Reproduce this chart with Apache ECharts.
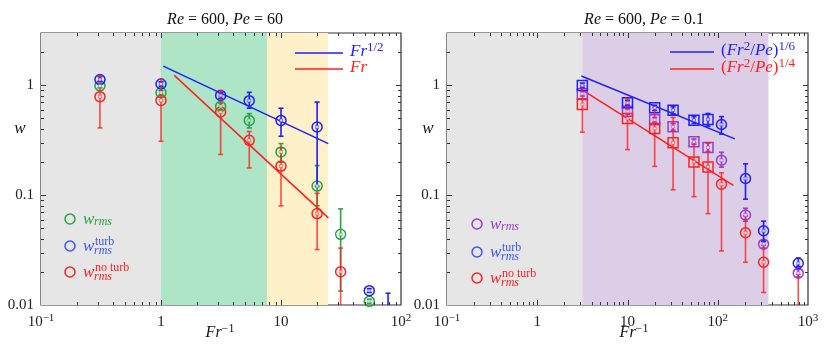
<!DOCTYPE html>
<html><head><meta charset="utf-8">
<script src="https://cdn.jsdelivr.net/npm/echarts@6/dist/echarts.min.js"></script>
<style>html,body{margin:0;padding:0;background:#fff}#c{width:830px;height:350px}</style>
</head><body><div id="c"></div>
<script>
// ================= DATA =================
// Left panel: Re = 600, Pe = 60
const leftX      = [0.31, 1, 3.14, 5.44, 10, 20, 31.4, 54.4, 78];
const leftW      = [0.99, 0.86, 0.644, 0.48, 0.248, 0.121, 0.044, 0.0108, null];
const leftWLo    = [0.95, 0.82, 0.60, 0.41, 0.20, 0.08, 0.0134, 0.0104, null];
const leftWHi    = [1.03, 0.90, 0.69, 0.553, 0.295, 0.186, 0.075, 0.0113, null];
const leftTurb   = [1.13, 1.03, 0.81, 0.726, 0.48, 0.418, null, 0.0135, 0.005];
const leftTurbLo = [1.08, 0.98, 0.76, 0.62, 0.344, 0.12, null, 0.013, 0.001];
const leftTurbHi = [1.20, 1.08, 0.86, 0.864, 0.62, 0.705, null, 0.0141, 0.0128];
const leftNo     = [0.79, 0.73, 0.572, 0.316, 0.184, 0.068, 0.0201, null, null];
const leftNoLo   = [0.41, 0.31, 0.235, 0.177, 0.08, 0.032, 0.009, null, null];
const leftNoHi   = [1.22, 1.14, 0.90, 0.38, 0.27, 0.104, 0.033, null, null];
const leftBands  = [0.1, 1, 7.64, 24.6];           // gray | green | yellow
const leftFitHalf = [[1.045, 1.50], [24.8, 0.295]];  // Fr^{1/2}
const leftFitOne  = [[1.29, 1.233], [24.8, 0.0622]]; // Fr

// Right panel: Re = 600, Pe = 0.1
const rightX      = [3.16, 10, 20, 32, 54.5, 78, 110, 203, 322, 780];
const rightMarker = ['sq','sq','sq','sq','sq','sq','ci','ci','ci','ci'];
const rightW      = [0.84, 0.58, 0.486, 0.42, 0.306, 0.272, 0.208, 0.066, 0.0358, 0.0195];
const rightWLo    = [0.80, 0.55, 0.46, 0.39, 0.29, 0.25, 0.18, 0.058, 0.033, 0.018];
const rightWHi    = [0.88, 0.61, 0.51, 0.45, 0.325, 0.30, 0.246, 0.076, 0.039, 0.021];
const rightTurb   = [1.0, 0.695, 0.625, 0.595, 0.482, 0.49, 0.44, 0.142, 0.0474, 0.024];
const rightTurbLo = [0.95, 0.66, 0.59, 0.55, 0.45, 0.425, 0.36, 0.092, 0.038, 0.0225];
const rightTurbHi = [1.05, 0.73, 0.66, 0.64, 0.52, 0.555, 0.52, 0.193, 0.058, 0.0268];
const rightNo     = [0.67, 0.50, 0.405, 0.30, 0.201, 0.181, 0.126, 0.0455, 0.0245, 0.005];
const rightNoLo   = [0.375, 0.26, 0.183, 0.112, 0.097, 0.068, 0.031, 0.0245, 0.013, 0.001];
const rightNoHi   = [0.99, 0.756, 0.634, 0.51, 0.30, 0.30, 0.16, 0.065, 0.035, 0.019];
const rightBands  = [0.1, 3.16, 365];              // gray | purple
const rightFitSixth   = [[3.08, 1.216], [154.5, 0.326]]; // (Fr^2/Pe)^{1/6}
const rightFitQuarter = [[3.08, 0.919], [149, 0.123]];   // (Fr^2/Pe)^{1/4}

const leftXRange  = [0.1, 100];
const rightXRange = [0.1, 1000];
const yRange      = [0.01, 3];

// ================= STYLE =================
const FONT = 'Liberation Serif';
const COL = {
  green: '#27a444', blue: '#1f1fff', red: '#ff2020', purple: '#9a3ccf',
  redBar: 'rgba(255,30,30,0.78)', gray: '#e6e6e6', bandGreen: '#ade5c6',
  bandYellow: '#fef0c9', bandPurple: '#dccee6', frame: '#333'
};

function decadeTicks(min, max) {
  const out = [];
  const e0 = Math.floor(Math.log10(min) + 1e-9), e1 = Math.ceil(Math.log10(max) - 1e-9);
  for (let e = e0; e <= e1; e++) {
    for (let m = 1; m <= 9; m++) {
      const v = m * Math.pow(10, e);
      if (v >= min * 0.999 && v <= max * 1.001) out.push([v, m === 1 ? 1 : 0]);
    }
  }
  return out;
}

function tickSeries(gi, xr, yr) {
  const data = [];
  decadeTicks(xr[0], xr[1]).forEach(([v, maj]) => data.push([v, yr[0], 0, maj]));
  decadeTicks(yr[0], yr[1]).forEach(([v, maj]) => { if (v < yr[1] * 0.999) data.push([xr[0], v, 1, maj]); });
  return {
    type: 'custom', xAxisIndex: gi, yAxisIndex: gi, silent: true, clip: false, z: 20,
    data,
    renderItem(params, api) {
      const cs = params.coordSys;
      const L = api.value(3) ? 5 : 3;
      const p = api.coord([api.value(0), api.value(1)]);
      const st = { stroke: COL.frame, lineWidth: 1 };
      if (api.value(2) === 0) {
        const x = Math.round(p[0]) + 0.5;
        if (x < cs.x + 1 || x > cs.x + cs.width - 1) return null;
        return { type: 'group', children: [
          { type: 'line', shape: { x1: x, y1: cs.y + cs.height, x2: x, y2: cs.y + cs.height - L }, style: st },
          { type: 'line', shape: { x1: x, y1: cs.y, x2: x, y2: cs.y + L }, style: st }
        ]};
      } else {
        const y = Math.round(p[1]) + 0.5;
        if (y < cs.y + 1 || y > cs.y + cs.height - 1) return null;
        return { type: 'group', children: [
          { type: 'line', shape: { x1: cs.x, y1: y, x2: cs.x + L, y2: y }, style: st },
          { type: 'line', shape: { x1: cs.x + cs.width, y1: y, x2: cs.x + cs.width - L, y2: y }, style: st }
        ]};
      }
    }
  };
}

function errSeries(gi, xs, lo, hi, val, color, z) {
  const data = [];
  xs.forEach((x, i) => { if (lo[i] != null) data.push([x, lo[i], hi[i], val[i] != null ? val[i] : lo[i]]); });
  return {
    type: 'custom', xAxisIndex: gi, yAxisIndex: gi, clip: true, silent: true, z,
    encode: { x: 0, y: [1, 2] }, data,
    renderItem(params, api) {
      const x = api.value(0);
      const a = api.coord([x, api.value(2)]), b = api.coord([x, api.value(1)]);
      const w = 2.5;
      const st = { stroke: color, lineWidth: 1.6 };
      return { type: 'group', children: [
        { type: 'line', shape: { x1: a[0], y1: a[1], x2: b[0], y2: b[1] }, style: st },
        { type: 'line', shape: { x1: a[0] - w, y1: a[1], x2: a[0] + w, y2: a[1] }, style: st },
        { type: 'line', shape: { x1: b[0] - w, y1: b[1], x2: b[0] + w, y2: b[1] }, style: st }
      ]};
    }
  };
}

function dotSeries(gi, xs, ys, color, z) {
  const data = [];
  xs.forEach((x, i) => { if (ys[i] != null) data.push([x, ys[i]]); });
  return {
    type: 'custom', xAxisIndex: gi, yAxisIndex: gi, clip: true, silent: true, z,
    data,
    renderItem(params, api) {
      const c = api.coord([api.value(0), api.value(1)]);
      return { type: 'rect', shape: { x: c[0] - 1.5, y: c[1] - 1.5, width: 3, height: 3 },
        style: { fill: '#fff', stroke: color, lineWidth: 0.7, opacity: 0.8 } };
    }
  };
}

function scatterSeries(gi, xs, ys, color, z, markers) {
  const data = [];
  xs.forEach((x, i) => {
    if (ys[i] == null) return;
    const item = { value: [x, ys[i]] };
    if (markers) item.symbol = markers[i] === 'sq' ? 'rect' : 'circle';
    data.push(item);
  });
  return {
    type: 'scatter', xAxisIndex: gi, yAxisIndex: gi, symbol: 'circle', symbolSize: 10, z,
    clip: true, silent: true, data,
    itemStyle: { color: 'rgba(0,0,0,0)', borderColor: color, borderWidth: 1.5, opacity: 1 }
  };
}

function fitSeries(gi, pts, color) {
  return { type: 'line', xAxisIndex: gi, yAxisIndex: gi, data: pts, symbol: 'none', silent: true, z: 6,
    lineStyle: { color, width: 1.5 } };
}

function bandSeries(gi, bands, colors) {
  const areas = [];
  for (let i = 0; i < bands.length - 1; i++) {
    areas.push([{ xAxis: bands[i], itemStyle: { color: colors[i], opacity: 1 } }, { xAxis: bands[i + 1] }]);
  }
  return { type: 'line', xAxisIndex: gi, yAxisIndex: gi, data: [], silent: true, z: 0,
    markArea: { silent: true, data: areas, itemStyle: { opacity: 1 } } };
}

function xFmt(v) {
  const e = Math.round(Math.log10(v));
  if (Math.abs(Math.log10(v) - e) > 0.01) return '';
  if (e === 0) return '1';
  if (e === 1) return '10';
  return '10{s|' + (e < 0 ? '\u2212' : '') + Math.abs(e) + '}';
}
function yFmt(v) {
  const e = Math.round(Math.log10(v));
  if (Math.abs(Math.log10(v) - e) > 0.01) return '';
  return e === 0 ? '1' : e === -1 ? '0.1' : e === -2 ? '0.01' : '';
}

function xAxisCfg(gi, r) {
  return { type: 'log', logBase: 10, gridIndex: gi, min: r[0], max: r[1],
    axisLine: { show: false }, axisTick: { show: false }, splitLine: { show: false },
    axisLabel: { formatter: xFmt, fontFamily: FONT, fontSize: 15, color: '#222', margin: 8, lineHeight: 18,
      rich: { s: { fontSize: 11, lineHeight: 11, verticalAlign: 'top', fontFamily: FONT, color: '#222' } } } };
}
function yAxisCfg(gi, r) {
  return { type: 'log', logBase: 10, gridIndex: gi, min: r[0], max: r[1],
    axisLine: { show: false }, axisTick: { show: false }, splitLine: { show: false },
    axisLabel: { formatter: yFmt, fontFamily: FONT, fontSize: 15, color: '#222', margin: 7, showMaxLabel: false } };
}

// ---------- text helpers (graphic) ----------
const richBase = (size, color) => ({
  i: { fontStyle: 'italic', fontFamily: FONT, fontSize: size, color, lineHeight: size + 5 },
  n: { fontFamily: FONT, fontSize: size, color, lineHeight: size + 5 },
  s: { fontFamily: FONT, fontSize: size - 4, color, lineHeight: size - 4, verticalAlign: 'top' },
  si: { fontFamily: FONT, fontStyle: 'italic', fontSize: size - 4, color, lineHeight: size - 4, verticalAlign: 'top' }
});
function rtext(x, y, text, size, color, align) {
  return { type: 'text', x, y, z: 50, silent: true,
    style: { text, rich: richBase(size, color), align: align || 'left', verticalAlign: 'middle',
      fontFamily: FONT, fontSize: size, fill: color } };
}
function ptext(x, y, text, size, color, italic, align) {
  return { type: 'text', x, y, z: 50, silent: true,
    style: { text, fontFamily: FONT, fontSize: size, fontStyle: italic ? 'italic' : 'normal', fill: color,
      align: align || 'left', verticalAlign: 'middle' } };
}
function wLegend(cx, cy, color, sup) {
  const els = [
    { type: 'circle', z: 50, silent: true, shape: { cx, cy, r: 5 }, style: { fill: 'none', stroke: color, lineWidth: 1.5 } },
    ptext(cx + 13, cy + 1, 'w', 17, color, true)
  ];
  if (sup) {
    els.push(ptext(cx + 25, cy - 4, sup, 12, color, false));
    els.push(ptext(cx + 24, cy + 5, 'rms', 12, color, true));
  } else {
    els.push(ptext(cx + 24, cy + 3, 'rms', 12, color, true));
  }
  return els;
}
function lineLegend(x1, x2, y, color, text, size) {
  return [
    { type: 'line', z: 50, silent: true, shape: { x1, y1: y, x2, y2: y }, style: { stroke: color, lineWidth: 1.5 } },
    rtext(x2 + 7, y - 1, text, size || 16, color)
  ];
}

const graphics = [
  rtext(225, 20, '{i|Re}{n| = 600, }{i|Pe}{n| = 60}', 16, '#111', 'center'),
  rtext(644, 20, '{i|Re}{n| = 600, }{i|Pe}{n| = 0.1}', 16, '#111', 'center'),
  ptext(20, 129, 'w', 17, '#111', true, 'center'),
  ptext(428, 129, 'w', 17, '#111', true, 'center'),
  rtext(220, 333, '{i|Fr}{s|\u22121}', 16, '#111', 'center'),
  rtext(634, 333, '{i|Fr}{s|\u22121}', 16, '#111', 'center'),
  ...lineLegend(295, 343, 53, COL.blue, '{i|Fr}{s|1/2}', 17),
  ...lineLegend(295, 343, 69, COL.red, '{i|Fr}', 17),
  ...lineLegend(670, 714, 52, COL.blue, '{n|(}{i|Fr}{s|2}{n|/}{i|Pe}{n|)}{s|1/6}', 17),
  ...lineLegend(670, 714, 69, COL.red, '{n|(}{i|Fr}{s|2}{n|/}{i|Pe}{n|)}{s|1/4}', 17),
  ...wLegend(70, 219, COL.green, null),
  ...wLegend(70, 246, '#3d55ff', 'turb'),
  ...wLegend(70, 272, COL.red, 'no turb'),
  ...wLegend(477, 224, COL.purple, null),
  ...wLegend(477, 252, '#3d55ff', 'turb'),
  ...wLegend(477, 278, COL.red, 'no turb')
];

const option = {
  animation: false,
  backgroundColor: '#fff',
  grid: [
    { left: 41, top: 33, width: 360, height: 272, show: true, borderColor: COL.frame, borderWidth: 1.2,
      backgroundColor: 'transparent', containLabel: false, outerBoundsMode: 'none' },
    { left: 447, top: 33, width: 361, height: 272, show: true, borderColor: COL.frame, borderWidth: 1.2,
      backgroundColor: 'transparent', containLabel: false, outerBoundsMode: 'none' }
  ],
  xAxis: [xAxisCfg(0, leftXRange), xAxisCfg(1, rightXRange)],
  yAxis: [yAxisCfg(0, yRange), yAxisCfg(1, yRange)],
  series: [
    bandSeries(0, leftBands, [COL.gray, COL.bandGreen, COL.bandYellow]),
    bandSeries(1, rightBands, [COL.gray, COL.bandPurple]),
    tickSeries(0, leftXRange, yRange),
    tickSeries(1, rightXRange, yRange),
    fitSeries(0, leftFitHalf, COL.blue),
    fitSeries(0, leftFitOne, COL.red),
    fitSeries(1, rightFitSixth, COL.blue),
    fitSeries(1, rightFitQuarter, COL.red),
    // left
    errSeries(0, leftX, leftWLo, leftWHi, leftW, COL.green, 7),
    scatterSeries(0, leftX, leftW, COL.green, 8),
    errSeries(0, leftX, leftTurbLo, leftTurbHi, leftTurb, COL.blue, 9),
    scatterSeries(0, leftX, leftTurb, COL.blue, 10),
    errSeries(0, leftX, leftNoLo, leftNoHi, leftNo, COL.redBar, 11),
    scatterSeries(0, leftX, leftNo, COL.red, 12),
    dotSeries(0, leftX, leftW, COL.green, 13),
    dotSeries(0, leftX, leftTurb, COL.blue, 13),
    dotSeries(0, leftX, leftNo, COL.red, 13),
    // right
    errSeries(1, rightX, rightWLo, rightWHi, rightW, COL.purple, 7),
    scatterSeries(1, rightX, rightW, COL.purple, 8, rightMarker),
    errSeries(1, rightX, rightTurbLo, rightTurbHi, rightTurb, COL.blue, 9),
    scatterSeries(1, rightX, rightTurb, COL.blue, 10, rightMarker),
    errSeries(1, rightX, rightNoLo, rightNoHi, rightNo, COL.redBar, 11),
    scatterSeries(1, rightX, rightNo, COL.red, 12, rightMarker),
    dotSeries(1, rightX, rightW, COL.purple, 13),
    dotSeries(1, rightX, rightTurb, COL.blue, 13),
    dotSeries(1, rightX, rightNo, COL.red, 13)
  ],
  graphic: graphics
};

const chart = echarts.init(document.getElementById('c'), null, { renderer: 'canvas' });
chart.setOption(option);
</script>
</body></html>
